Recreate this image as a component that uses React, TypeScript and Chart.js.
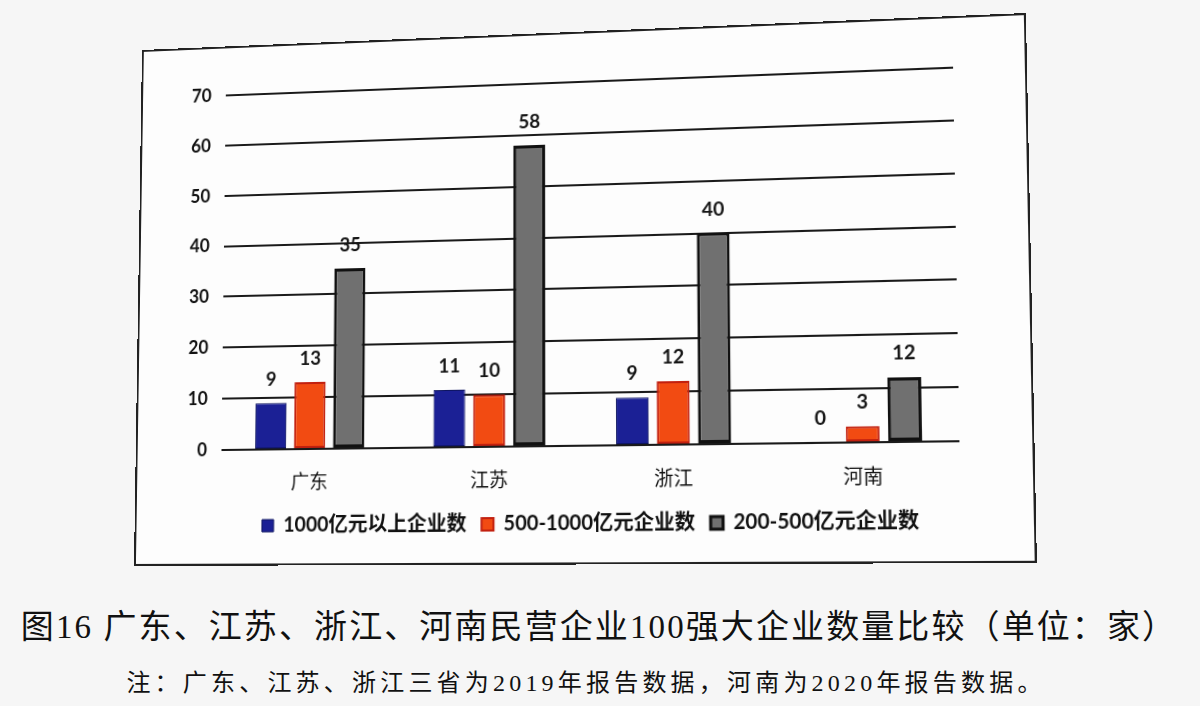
import React, { useEffect, useRef } from "react";
import { Chart, registerables } from "chart.js";

Chart.register(...registerables);

const categories = ["广东", "江苏", "浙江", "河南"];
const seriesNames = ["1000亿元以上企业数", "500-1000亿元企业数", "200-500亿元企业数"];
const over1000 = [9, 11, 9, 0];
const from500to1000 = [13, 10, 12, 3];
const from200to500 = [35, 58, 40, 12];
const yMax = 70;
const yStep = 10;
const titleText = "图16 广东、江苏、浙江、河南民营企业100强大企业数量比较（单位：家）";
const noteText = "注：广东、江苏、浙江三省为2019年报告数据，河南为2020年报告数据。";

const BOX_W = 890;
const BOX_H = 520;

function quadMatrix(W: number, H: number, p0: number[], p1: number[], p2: number[], p3: number[]) {
  const [x0, y0] = p0, [x1, y1] = p1, [x2, y2] = p2, [x3, y3] = p3;
  const dx1 = x1 - x2, dx2 = x3 - x2, dx3 = x0 - x1 + x2 - x3;
  const dy1 = y1 - y2, dy2 = y3 - y2, dy3 = y0 - y1 + y2 - y3;
  const den = dx1 * dy2 - dx2 * dy1;
  const g = (dx3 * dy2 - dx2 * dy3) / den;
  const h = (dx1 * dy3 - dx3 * dy1) / den;
  const a = x1 - x0 + g * x1, b = x3 - x0 + h * x3, c = x0;
  const d = y1 - y0 + g * y1, e = y3 - y0 + h * y3, f = y0;
  const A = a / W, B = b / H, D = d / W, E = e / H, G = g / W, Hh = h / H;
  return `matrix3d(${A},${D},0,${G},${B},${E},0,${Hh},0,0,1,0,${c},${f},0,1)`;
}

const valueLabels = {
  id: "valueLabels",
  afterDatasetsDraw(chart: any) {
    const ctx = chart.ctx;
    ctx.save();
    ctx.font = "bold 19px Lato, 'Noto Sans CJK SC', sans-serif";
    ctx.fillStyle = "#151515";
    ctx.textAlign = "center";
    ctx.textBaseline = "middle";
    chart.data.datasets.forEach((ds: any, i: number) => {
      const meta = chart.getDatasetMeta(i);
      meta.data.forEach((bar: any, j: number) => {
        ctx.fillText(String(ds.data[j]), bar.x, bar.y - 23);
      });
    });
    ctx.restore();
  },
};

export default function App() {
  const canvasRef = useRef<HTMLCanvasElement>(null);

  useEffect(() => {
    document.body.style.margin = "0";
    const canvas = canvasRef.current!;
    const chart = new Chart(canvas, {
      type: "bar",
      data: {
        labels: categories,
        datasets: [
          {
            label: seriesNames[0],
            data: over1000,
            backgroundColor: "#1b2095",
            borderColor: "#0d1460",
            borderWidth: 1,
            borderSkipped: false,
          },
          {
            label: seriesNames[1],
            data: from500to1000,
            backgroundColor: "#f24b12",
            borderColor: "#c2200f",
            borderWidth: 2,
            borderSkipped: false,
          },
          {
            label: seriesNames[2],
            data: from200to500,
            backgroundColor: "#707070",
            borderColor: "#111111",
            borderWidth: 3,
            borderSkipped: false,
          },
        ],
      },
      options: {
        responsive: false,
        animation: false,
        devicePixelRatio: 1,
        layout: { padding: { top: 48, right: 0, left: 24, bottom: 17 } },
        datasets: { bar: { categoryPercentage: 0.66, barPercentage: 0.8 } },
        plugins: {
          legend: {
            position: "bottom",
            labels: {
              boxWidth: 12,
              boxHeight: 12,
              padding: 15,
              color: "#111",
              font: { family: "Lato, 'Noto Sans CJK SC', sans-serif", size: 20, weight: "bold" },
            },
          },
          tooltip: { enabled: false },
        },
        scales: {
          x: {
            grid: { display: false },
            border: { display: false },
            ticks: {
              padding: 12,
              color: "#111",
              font: { family: "'Noto Sans CJK SC', sans-serif", size: 19 },
            },
            afterFit(scale: any) {
              scale.height = 50;
            },
          },
          y: {
            min: 0,
            max: yMax,
            ticks: {
              stepSize: yStep,
              padding: 15,
              color: "#111",
              font: { family: "Lato, sans-serif", size: 18, weight: "bold" },
            },
            grid: { color: "#1a1a1a", lineWidth: 2, drawTicks: false },
            border: { display: false },
            afterFit(scale: any) {
              scale.width = 64;
            },
          },
          yRightSpace: {
            position: "right",
            min: 0,
            max: yMax,
            grid: { display: false },
            border: { display: false },
            ticks: { callback: () => "", color: "transparent" },
            afterFit(scale: any) {
              scale.width = 68;
            },
          },
        },
      },
      plugins: [valueLabels],
    });
    return () => chart.destroy();
  }, []);

  const transform = quadMatrix(BOX_W, BOX_H, [142, 50], [1026, 13], [1037, 563], [134, 566]);

  return (
    <div style={{ position: "absolute", left: 0, top: 0, width: 1200, height: 706, background: "#f6f6f6", overflow: "hidden" }}>
      <div
        style={{
          position: "absolute",
          left: 0,
          top: 0,
          width: BOX_W,
          height: BOX_H,
          boxSizing: "border-box",
          border: "2px solid #222",
          background: "#fdfdfd",
          transformOrigin: "0 0",
          transform,
        }}
      >
        <canvas ref={canvasRef} width={BOX_W - 4} height={BOX_H - 4} style={{ display: "block" }} />
      </div>
      <div
        style={{
          position: "absolute",
          left: 0,
          width: 1198,
          top: 606,
          textAlign: "center",
          fontFamily: "'Liberation Serif', 'Noto Sans CJK SC', serif",
          fontSize: 33,
          lineHeight: "42px",
          letterSpacing: "2.1px",
          color: "#111",
          whiteSpace: "nowrap",
        }}
      >
        {titleText}
      </div>
      <div
        style={{
          position: "absolute",
          left: 0,
          width: 1172,
          top: 668,
          textAlign: "center",
          fontFamily: "'Liberation Serif', 'Noto Sans CJK SC', serif",
          fontSize: 24,
          lineHeight: "30px",
          letterSpacing: "4.2px",
          color: "#111",
          whiteSpace: "nowrap",
        }}
      >
        {noteText}
      </div>
    </div>
  );
}
